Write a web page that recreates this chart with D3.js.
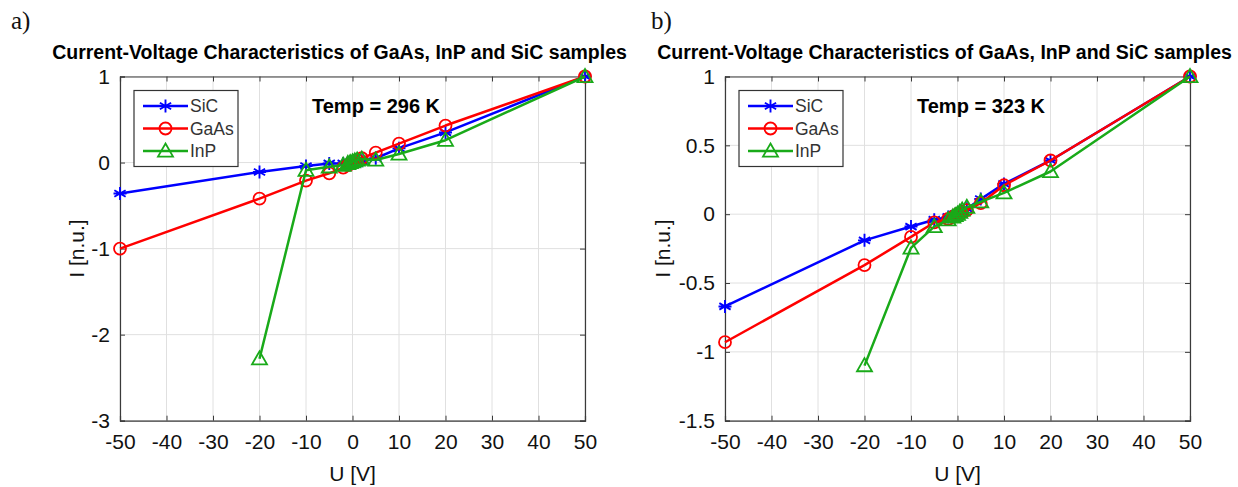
<!DOCTYPE html>
<html>
<head>
<meta charset="utf-8">
<script src="https://cdn.jsdelivr.net/npm/d3@7"></script>
<style>
  html, body { margin: 0; padding: 0; background: #fff; }
  svg text { font-family: "Liberation Sans", Arial, sans-serif; }
</style>
</head>
<body>
<svg id="chart" width="1238" height="487"></svg>
<script>
// ---- data ----
const voltage = [-50, -20, -10, -5, -2, -1, -0.5, 0, 0.5, 1, 2, 5, 10, 20, 50];
const seriesNames = ["SiC", "GaAs", "InP"];
const xTicks = [-50, -40, -30, -20, -10, 0, 10, 20, 30, 40, 50];

// Temp = 296 K
const sic296  = [-0.36, -0.11, -0.04, -0.01, -0.01, -0.005, 0, 0, 0.005, 0.01, 0.02, 0.05, 0.165, 0.35, 1];
const gaas296 = [-1.0, -0.42, -0.21, -0.125, -0.06, -0.03, -0.015, 0, 0.015, 0.03, 0.05, 0.115, 0.22, 0.43, 1];
const inp296  = [null, -2.28, -0.09, -0.05, -0.03, -0.01, 0, 0.01, 0.02, 0.03, 0.04, 0.03, 0.10, 0.26, 1];
const yTicks296 = [-3, -2, -1, 0, 1];

// Temp = 323 K
const sic323  = [-0.67, -0.19, -0.09, -0.04, -0.02, -0.01, 0, 0, 0.01, 0.02, 0.04, 0.11, 0.22, 0.39, 1];
const gaas323 = [-0.93, -0.37, -0.165, -0.06, -0.035, -0.02, -0.01, 0, 0.008, 0.015, 0.03, 0.08, 0.21, 0.39, 1];
const inp323  = [null, -1.1, -0.245, -0.09, -0.04, -0.02, -0.01, 0, 0.015, 0.03, 0.05, 0.09, 0.155, 0.31, 1];
const yTicks323 = [-1.5, -1, -0.5, 0, 0.5, 1];

const colors = {SiC: "#0000ff", GaAs: "#ff0000", InP: "#19aa19"};
const markers = {SiC: "asterisk", GaAs: "circle", InP: "triangle"};

const svg = d3.select("#chart");

function drawMarker(g, type, cx, cy, color) {
  if (type === "circle") {
    g.append("circle").attr("cx", cx).attr("cy", cy).attr("r", 6)
      .attr("fill", "none").attr("stroke", color).attr("stroke-width", 1.8);
  } else if (type === "triangle") {
    const s = 7.5;
    g.append("path")
      .attr("d", `M${cx},${cy - s} L${cx + s},${cy + s * 0.75} L${cx - s},${cy + s * 0.75} Z`)
      .attr("fill", "none").attr("stroke", color).attr("stroke-width", 1.8);
  } else {
    const s = 6.5;
    const d = [];
    for (let k = 0; k < 3; k++) {
      const a = Math.PI / 2 + k * Math.PI / 3;
      d.push(`M${cx + s * Math.cos(a)},${cy + s * Math.sin(a)} L${cx - s * Math.cos(a)},${cy - s * Math.sin(a)}`);
    }
    d.push(`M${cx - s},${cy} L${cx + s},${cy}`);
    g.append("path").attr("d", d.join(" ")).attr("stroke", color).attr("stroke-width", 1.9).attr("fill", "none");
  }
}

function drawPanel(cfg) {
  const left = cfg.left, top = 76.5, width = 465, height = 344.2;
  const x = d3.scaleLinear().domain([-50, 50]).range([left, left + width]);
  const y = d3.scaleLinear().domain(cfg.yDomain).range([top + height, top]);
  const g = svg.append("g");

  // panel letter
  svg.append("text").attr("x", cfg.letterX).attr("y", 29)
    .style("font-family", "'Liberation Serif', 'Times New Roman', serif")
    .style("font-size", "25px").attr("fill", "#111").text(cfg.letter);

  // title
  svg.append("text").attr("x", left + width / 2 - 13).attr("y", 59)
    .attr("text-anchor", "middle").style("font-size", "19.5px").style("font-weight", "bold")
    .attr("fill", "#000").text("Current-Voltage Characteristics of GaAs, InP and SiC samples");

  // grid
  g.append("g").selectAll("line").data(xTicks).join("line")
    .attr("x1", d => x(d)).attr("x2", d => x(d)).attr("y1", top).attr("y2", top + height)
    .attr("stroke", "#e0e0e0").attr("stroke-width", 1);
  g.append("g").selectAll("line").data(cfg.yTicks).join("line")
    .attr("x1", left).attr("x2", left + width).attr("y1", d => y(d)).attr("y2", d => y(d))
    .attr("stroke", "#e0e0e0").attr("stroke-width", 1);

  // axes
  const axColor = "#3a3a3a";
  const xAxis = g.append("g").attr("transform", `translate(0,${top + height})`)
    .call(d3.axisBottom(x).tickValues(xTicks).tickSize(-5).tickPadding(13).tickFormat(d3.format("d")));
  const xTop = g.append("g").attr("transform", `translate(0,${top})`)
    .call(d3.axisTop(x).tickValues(xTicks).tickSize(-5).tickFormat(""));
  const yAxis = g.append("g").attr("transform", `translate(${left},0)`)
    .call(d3.axisLeft(y).tickValues(cfg.yTicks).tickSize(-5).tickPadding(10).tickFormat(d => d3.format("")(d)));
  const yRight = g.append("g").attr("transform", `translate(${left + width},0)`)
    .call(d3.axisRight(y).tickValues(cfg.yTicks).tickSize(-5).tickFormat(""));
  [xAxis, xTop, yAxis, yRight].forEach(a => {
    a.select(".domain").attr("stroke", axColor).attr("stroke-width", 1.2);
    a.selectAll(".tick line").attr("stroke", axColor).attr("stroke-width", 1);
    a.selectAll("text").style("font-family", "'Liberation Sans', Arial, sans-serif")
      .style("font-size", "21px").attr("fill", "#111");
  });
  yAxis.selectAll("text").text(d => d < 0 ? "-" + Math.abs(d) : d);
  xAxis.selectAll("text").text(d => d < 0 ? "-" + Math.abs(d) : d);

  // axis labels
  svg.append("text").attr("x", left + width / 2).attr("y", 481)
    .attr("text-anchor", "middle").style("font-size", "21px").attr("fill", "#111").text("U [V]");
  svg.append("text").attr("transform", `translate(${cfg.yLabelX},${top + height / 2}) rotate(-90)`)
    .attr("text-anchor", "middle").attr("dy", "0.35em").style("font-size", "21px").attr("fill", "#111").text("I [n.u.]");

  // series
  const line = d3.line().defined(d => d.v !== null).x(d => x(d.u)).y(d => y(d.v));
  seriesNames.forEach((name, i) => {
    const pts = voltage.map((u, j) => ({u, v: cfg.data[i][j]})).filter(d => d.v !== null);
    g.append("path").datum(pts).attr("d", line).attr("fill", "none")
      .attr("stroke", colors[name]).attr("stroke-width", 2.5).attr("stroke-linejoin", "round");
    const mg = g.append("g");
    pts.forEach(d => drawMarker(mg, markers[name], x(d.u), y(d.v), colors[name]));
  });

  // temp annotation
  svg.append("text").attr("x", left + 192).attr("y", 113)
    .style("font-size", "20px").style("font-weight", "bold").attr("fill", "#000").text(cfg.temp);

  // legend
  const lg = svg.append("g").attr("transform", `translate(${left + 14},${90.5})`);
  lg.append("rect").attr("width", 104).attr("height", 76).attr("fill", "#fff")
    .attr("stroke", "#333").attr("stroke-width", 1.2);
  seriesNames.forEach((name, i) => {
    const yy = 15.5 + i * 22.5;
    lg.append("line").attr("x1", 9).attr("x2", 54).attr("y1", yy).attr("y2", yy)
      .attr("stroke", colors[name]).attr("stroke-width", 2.5);
    drawMarker(lg, markers[name], 31.5, yy, colors[name]);
    lg.append("text").attr("x", 56).attr("y", yy).attr("dy", "0.36em")
      .style("font-size", "17.5px").attr("fill", "#333").text(name);
  });
}

drawPanel({left: 120, letter: "a)", letterX: 11, yDomain: [-3, 1], yTicks: yTicks296,
  data: [sic296, gaas296, inp296], temp: "Temp = 296 K", yLabelX: 77});
drawPanel({left: 725, letter: "b)", letterX: 651, yDomain: [-1.5, 1], yTicks: yTicks323,
  data: [sic323, gaas323, inp323], temp: "Temp = 323 K", yLabelX: 663});
</script>
</body>
</html>
